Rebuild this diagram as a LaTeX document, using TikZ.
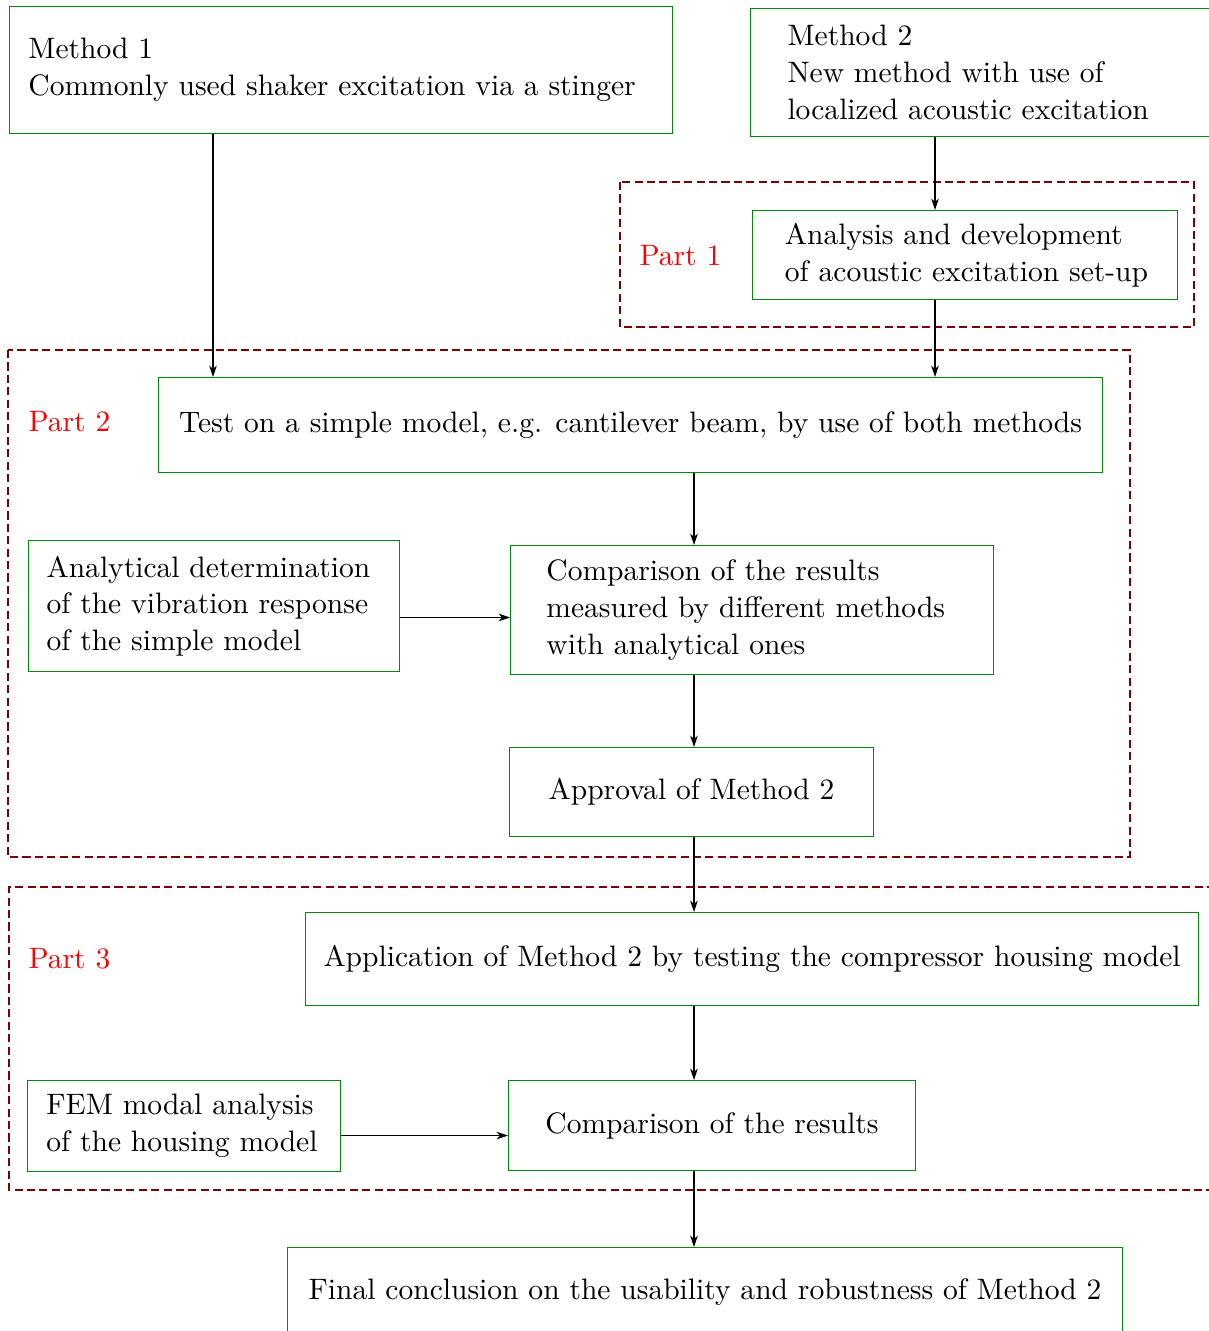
\documentclass[tikz,border=0pt]{standalone}
\usepackage{tikz}
\usetikzlibrary{positioning,arrows.meta,calc}

\begin{document}
\begin{tikzpicture}[x=0.3705pt,y=-0.3705pt,>={Stealth[length=4.2pt,width=2.8pt,inset=1.2pt]},
  font=\fontsize{10.95pt}{13.6pt}\selectfont,
  stepbox/.style={draw=green!55!black,thin,anchor=north west,align=left},
  partbox/.style={draw=red!50!black,line width=0.75pt,dash pattern=on 3pt off 1.6pt},
  partlabel/.style={text=red,anchor=west,inner sep=0pt},
  flow/.style={->,thin}]

\useasboundingbox (0,0) rectangle (1208,1331);

% groups
\draw[partbox] (620,182) rectangle (1194,327);
\draw[partbox] (8,350) rectangle (1130,857);
\draw[partbox] (1240,887) -- (9,887) -- (9,1190) -- (1240,1190);

\node[partlabel] (p1) at (639,256) {Part 1};
\node[partlabel] (p2) at (28,422) {Part 2};
\node[partlabel] (p3) at (28,959) {Part 3};

% boxes
\node[stepbox,minimum height=47.1pt,inner xsep=7pt,text width=231.6pt] (m1) at (9,6) {Method 1\\Commonly used shaker excitation via a stinger};
\node[stepbox,minimum height=47.4pt,inner xsep=13.7pt,text width=150.4pt] (m2) at (750,8) {Method 2\\New method with use of\\localized acoustic excitation};
\node[stepbox,minimum height=33pt,inner xsep=12pt,text width=133.5pt] (ana) at (752,210) {Analysis and development\\\mbox{of acoustic excitation set-up}};
\node[stepbox,minimum height=35.2pt,minimum width=349.8pt] (test) at (158,377) {Test on a simple model, e.g. cantilever beam, by use of both methods};
\node[stepbox,minimum height=48.5pt,inner xsep=6.7pt,text width=124.1pt] (analyt) at (28,540) {Analytical determination\\of the vibration response\\of the simple model};
\node[stepbox,minimum height=47.8pt,inner xsep=13.3pt,text width=152.3pt] (comp1) at (510,545) {Comparison of the results\\measured by different methods\\with analytical ones};
\node[stepbox,minimum height=33pt,minimum width=134.9pt] (appr) at (509,747) {Approval of Method 2};
\node[stepbox,minimum height=34.5pt,minimum width=330.9pt] (appl) at (305,912) {Application of Method 2 by testing the compressor housing model};
\node[stepbox,minimum height=33.7pt,inner xsep=7pt,text width=101.9pt] (fem) at (27,1080) {FEM modal analysis\\of the housing model};
\node[stepbox,minimum height=33.3pt,minimum width=150.8pt] (comp2) at (508,1080) {Comparison of the results};
\node[stepbox,minimum height=33.3pt,minimum width=309.4pt] (fin) at (287,1247) {Final conclusion on the usability and robustness of Method 2};

% arrows
\coordinate (left) at (213,0);
\coordinate (right) at (935,0);
\coordinate (mid) at (694,0);
\draw[flow] (m1.south -| left) -- (test.north -| left);
\draw[flow] (m2.south -| right) -- (ana.north -| right);
\draw[flow] (ana.south -| right) -- (test.north -| right);
\draw[flow] (test.south -| mid) -- (comp1.north -| mid);
\draw[flow] ($(analyt.east)+(0,11.5)$) -- (comp1.west |- {$(analyt.east)+(0,11.5)$});
\draw[flow] (comp1.south -| mid) -- (appr.north -| mid);
\draw[flow] (appr.south -| mid) -- (appl.north -| mid);
\draw[flow] (appl.south -| mid) -- (comp2.north -| mid);
\draw[flow] ($(fem.east)+(0,9.5)$) -- (comp2.west |- {$(fem.east)+(0,9.5)$});
\draw[flow] (comp2.south -| mid) -- (fin.north -| mid);

\end{tikzpicture}
\end{document}
